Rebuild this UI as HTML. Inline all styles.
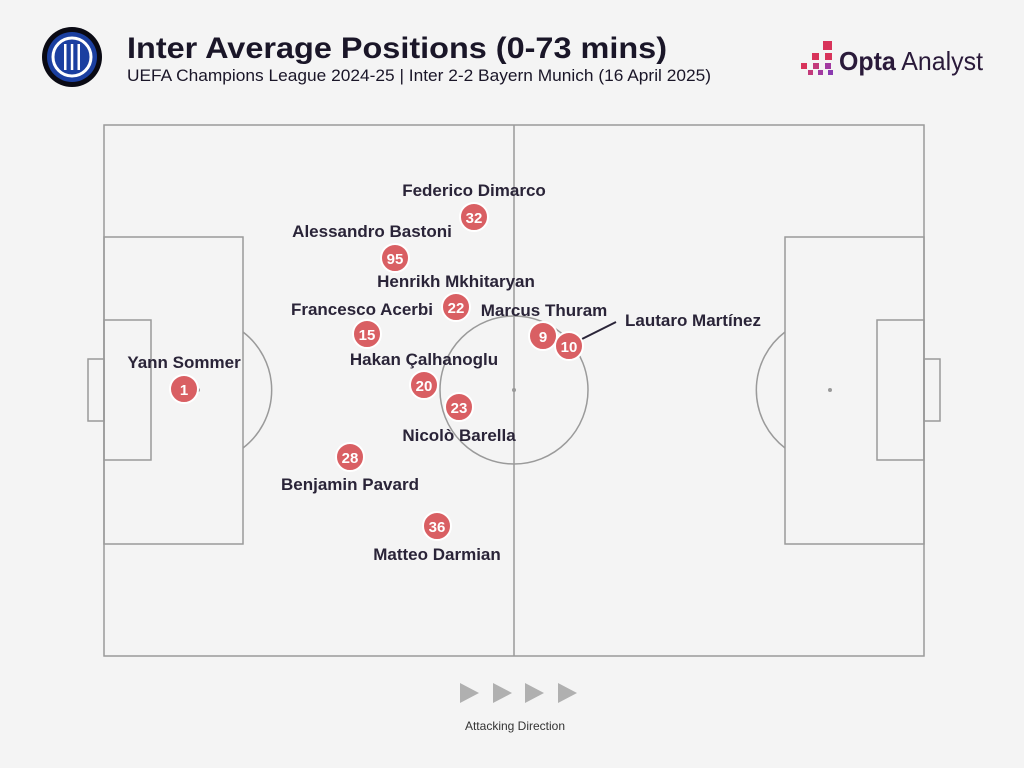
<!DOCTYPE html>
<html><head><style>
body{margin:0;background:#f4f4f4;}
svg{display:block;font-family:"Liberation Sans",sans-serif;}
</style></head><body>
<svg width="1024" height="768" viewBox="0 0 1024 768">
<rect width="1024" height="768" fill="#f4f4f4"/>
<circle cx="72" cy="57" r="30" fill="#0a0a14"/>
<circle cx="72" cy="57" r="25" fill="#1b3fa0"/>
<circle cx="72" cy="57" r="19" fill="none" stroke="#fff" stroke-width="3"/>
<rect x="64" y="44" width="2.5" height="26" fill="#fff"/><rect x="70.8" y="44" width="2.5" height="26" fill="#fff"/><rect x="77.5" y="44" width="2.5" height="26" fill="#fff"/>
<text x="127" y="58" font-size="30" font-weight="bold" fill="#1a1628" textLength="540" lengthAdjust="spacingAndGlyphs">Inter Average Positions (0-73 mins)</text>
<text x="127" y="81" font-size="17" fill="#1a1628" textLength="584" lengthAdjust="spacingAndGlyphs">UEFA Champions League 2024-25 | Inter 2-2 Bayern Munich (16 April 2025)</text>
<g fill="#d8335a"><rect x="823" y="41" width="9" height="9"/><rect x="812" y="53" width="7" height="7"/><rect x="825" y="53" width="7" height="7"/><rect x="801" y="63" width="6" height="6"/><rect x="813" y="63" width="6" height="6" fill="#c33a7a"/><rect x="825" y="63" width="6" height="6" fill="#a23aa0"/><rect x="808" y="70" width="5" height="5" fill="#c33a7a"/><rect x="818" y="70" width="5" height="5" fill="#a23aa0"/><rect x="828" y="70" width="5" height="5" fill="#8a3ab0"/></g>
<text x="839" y="70" font-size="26" fill="#2a1a3a" textLength="144" lengthAdjust="spacingAndGlyphs"><tspan font-weight="bold">Opta</tspan> Analyst</text>
<g fill="none" stroke="#9a9a9a" stroke-width="1.5">
<rect x="104" y="125" width="820" height="531"/>
<line x1="514" y1="125" x2="514" y2="656"/>
<circle cx="514" cy="390" r="74"/>
<rect x="104" y="237" width="139" height="307"/>
<rect x="104" y="320" width="47" height="140"/>
<rect x="88" y="359" width="16" height="62"/>
<path d="M243 332 A73 73 0 0 1 243 448"/>
<rect x="785" y="237" width="139" height="307"/>
<rect x="877" y="320" width="47" height="140"/>
<rect x="924" y="359" width="16" height="62"/>
<path d="M785 332 A73 73 0 0 0 785 448"/>
</g>
<g fill="#9a9a9a"><circle cx="514" cy="390" r="2"/><circle cx="198" cy="390" r="2"/><circle cx="830" cy="390" r="2"/></g>
<line x1="580" y1="340" x2="616" y2="322" stroke="#2a2438" stroke-width="2"/>
<g fill="#d95f63" stroke="#fff" stroke-width="2">
<circle cx="184" cy="389" r="14"/><circle cx="395" cy="258" r="14"/><circle cx="474" cy="217" r="14"/><circle cx="456" cy="307" r="14"/><circle cx="367" cy="334" r="14"/><circle cx="543" cy="336" r="14"/><circle cx="569" cy="346" r="14"/><circle cx="424" cy="385" r="14"/><circle cx="459" cy="407" r="14"/><circle cx="350" cy="457" r="14"/><circle cx="437" cy="526" r="14"/>
</g>
<g fill="#fff" font-size="15" font-weight="bold" text-anchor="middle">
<text x="184" y="395">1</text><text x="395" y="264">95</text><text x="474" y="223">32</text><text x="456" y="313">22</text><text x="367" y="340">15</text><text x="543" y="342">9</text><text x="569" y="352">10</text><text x="424" y="391">20</text><text x="459" y="413">23</text><text x="350" y="463">28</text><text x="437" y="532">36</text>
</g>
<g fill="#2a2438" font-size="17" font-weight="bold" text-anchor="middle">
<text x="184" y="368">Yann Sommer</text>
<text x="372" y="237">Alessandro Bastoni</text>
<text x="474" y="196">Federico Dimarco</text>
<text x="456" y="287">Henrikh Mkhitaryan</text>
<text x="362" y="315">Francesco Acerbi</text>
<text x="544" y="316">Marcus Thuram</text>
<text x="693" y="326">Lautaro Martínez</text>
<text x="424" y="365">Hakan Çalhanoglu</text>
<text x="459" y="441">Nicolò Barella</text>
<text x="350" y="490">Benjamin Pavard</text>
<text x="437" y="560">Matteo Darmian</text>
</g>
<g fill="#b0b0b0"><path d="M460 683 L479 693 L460 703Z"/><path d="M493 683 L512 693 L493 703Z"/><path d="M525 683 L544 693 L525 703Z"/><path d="M558 683 L577 693 L558 703Z"/></g>
<text x="515" y="730" font-size="12" fill="#333" text-anchor="middle">Attacking Direction</text>
</svg>
</body></html>
